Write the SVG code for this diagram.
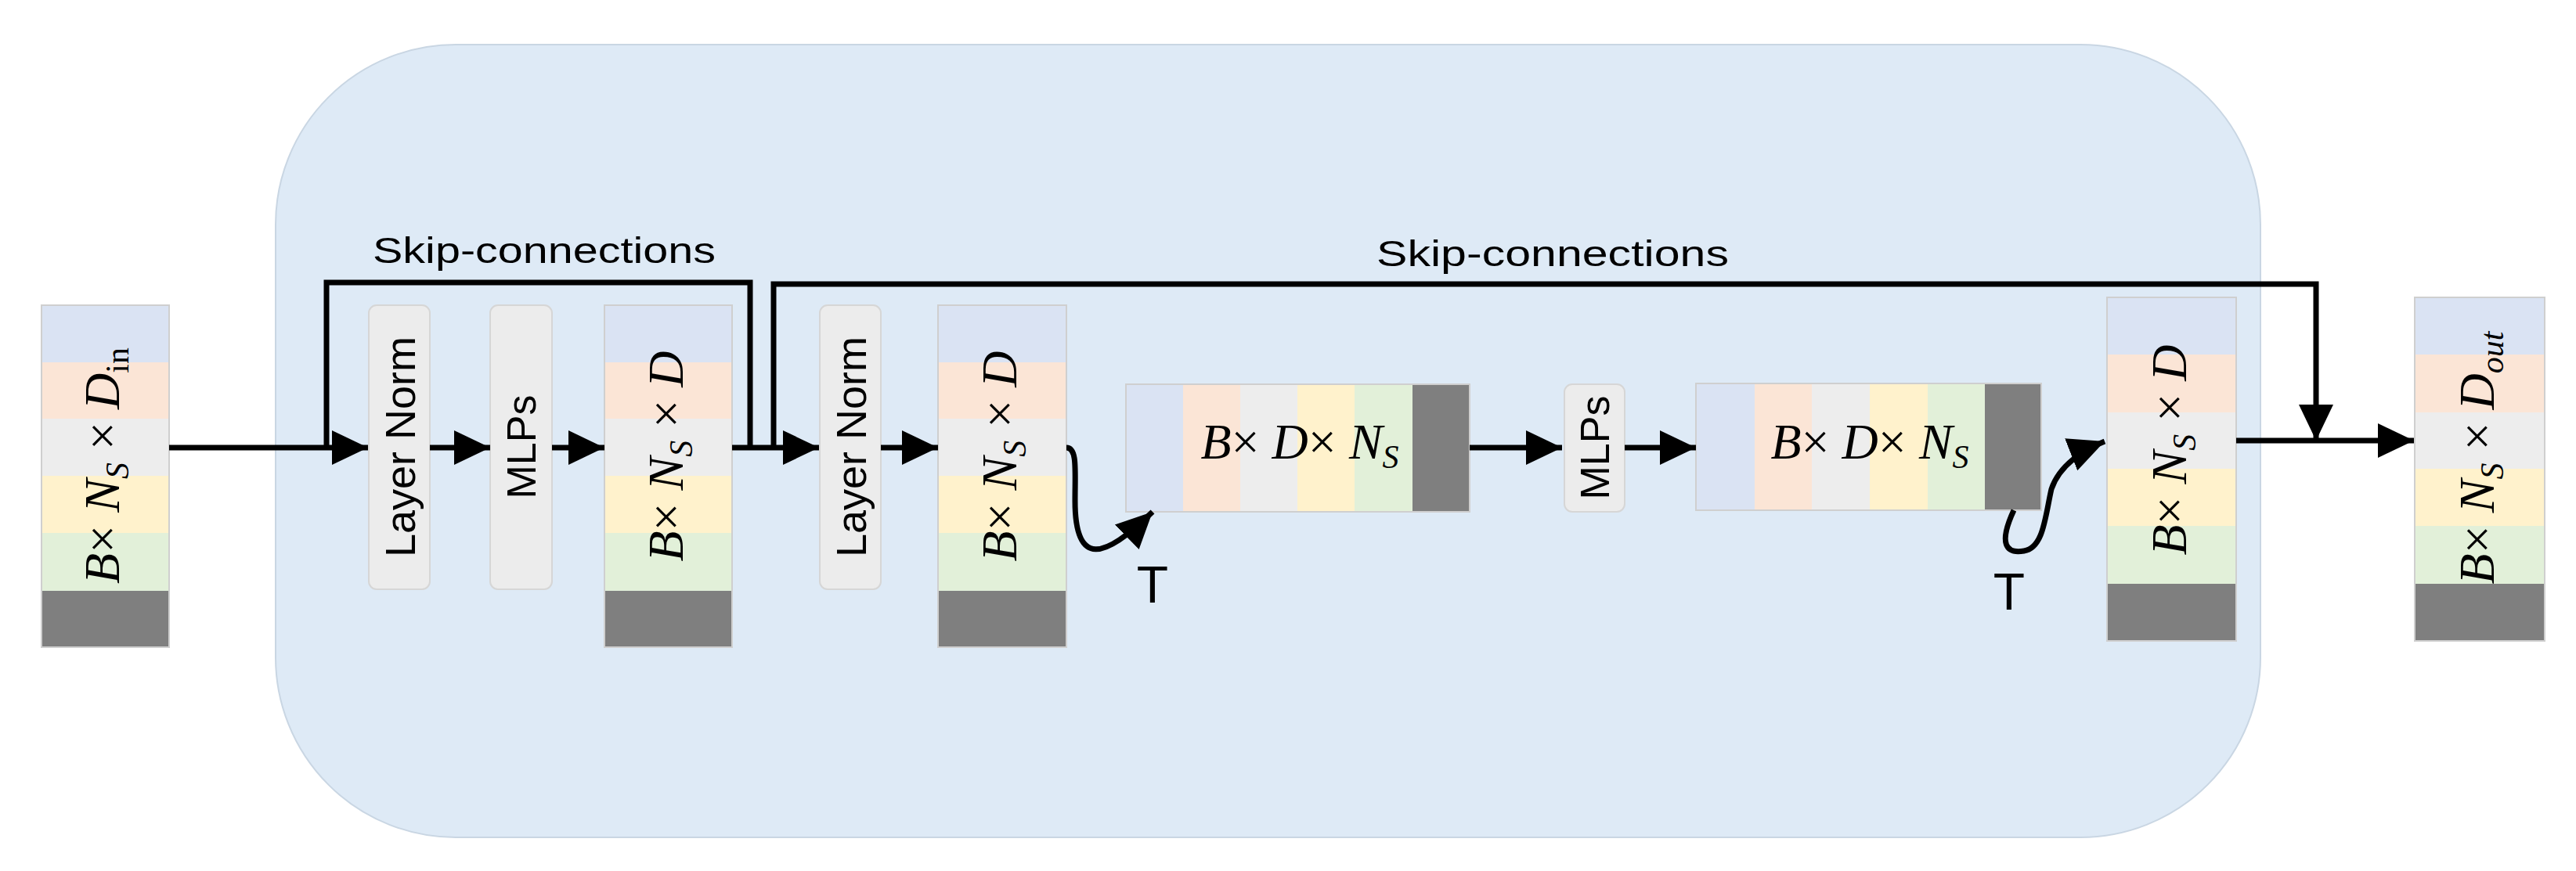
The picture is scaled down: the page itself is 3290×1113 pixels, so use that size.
<svg xmlns="http://www.w3.org/2000/svg" width="3290" height="1113" viewBox="0 0 3290 1113">
<style>
.c1{fill:#dae3f3}.c2{fill:#fbe5d6}.c3{fill:#ededed}.c4{fill:#fff2cc}.c5{fill:#e2f0d9}.c6{fill:#7f7f7f}
.sep{stroke:#cfcfcf;stroke-width:2;fill:none}
.box{fill:#ececec;stroke:#d6d6d6;stroke-width:2}
.ln{fill:none;stroke:#000;stroke-width:7}
.math{font-family:"Liberation Serif",serif;font-style:italic;font-size:64px;fill:#000}
.up{font-style:normal}
.sans{font-family:"Liberation Sans",Arial,sans-serif;fill:#000}
</style>
<defs>
<marker id="ah" markerUnits="userSpaceOnUse" markerWidth="50" markerHeight="50" refX="46" refY="22" orient="auto" viewBox="0 0 50 44">
<path d="M0,0 L46,22 L0,44 Z" fill="#000"/>
</marker>
</defs>
<rect x="352" y="57" width="2535" height="1013" rx="230" fill="#deeaf6" stroke="#c9d6e3" stroke-width="2"/>

<g id="col-in">
<rect class="c1" x="53" y="390" width="163" height="73"/><rect class="c2" x="53" y="463" width="163" height="72"/><rect class="c3" x="53" y="535" width="163" height="73"/><rect class="c4" x="53" y="608" width="163" height="73"/><rect class="c5" x="53" y="681" width="163" height="74"/><rect class="c6" x="53" y="755" width="163" height="72"/>
<rect class="sep" x="53" y="390" width="163" height="437"/>
<text class="math" transform="translate(152,595) rotate(-90)" text-anchor="middle">B<tspan class="up">× </tspan>N<tspan font-size="42" dy="12">S</tspan><tspan class="up" dy="-12"> × </tspan>D<tspan class="up" font-size="42" dy="12">in</tspan></text>
</g>

<g id="ln1"><rect class="box" x="471" y="390" width="78" height="363" rx="10"/>
<text class="sans" font-size="54" transform="translate(530,571) rotate(-90)" text-anchor="middle">Layer Norm</text></g>
<g id="mlp1"><rect class="box" x="626" y="390" width="79" height="363" rx="10"/>
<text class="sans" font-size="52" transform="translate(684,571) rotate(-90)" text-anchor="middle">MLPs</text></g>

<g id="col2">
<rect class="c1" x="772" y="390" width="163" height="73"/><rect class="c2" x="772" y="463" width="163" height="72"/><rect class="c3" x="772" y="535" width="163" height="73"/><rect class="c4" x="772" y="608" width="163" height="73"/><rect class="c5" x="772" y="681" width="163" height="74"/><rect class="c6" x="772" y="755" width="163" height="72"/>
<rect class="sep" x="772" y="390" width="163" height="437"/>
<text class="math" transform="translate(872,583) rotate(-90)" text-anchor="middle">B<tspan class="up">× </tspan>N<tspan font-size="42" dy="12">S</tspan><tspan class="up" dy="-12"> × </tspan>D</text>
</g>

<g id="ln2"><rect class="box" x="1047" y="390" width="78" height="363" rx="10"/>
<text class="sans" font-size="54" transform="translate(1106,571) rotate(-90)" text-anchor="middle">Layer Norm</text></g>

<g id="col3">
<rect class="c1" x="1198" y="390" width="164" height="73"/><rect class="c2" x="1198" y="463" width="164" height="72"/><rect class="c3" x="1198" y="535" width="164" height="73"/><rect class="c4" x="1198" y="608" width="164" height="73"/><rect class="c5" x="1198" y="681" width="164" height="74"/><rect class="c6" x="1198" y="755" width="164" height="72"/>
<rect class="sep" x="1198" y="390" width="164" height="437"/>
<text class="math" transform="translate(1298,583) rotate(-90)" text-anchor="middle">B<tspan class="up">× </tspan>N<tspan font-size="42" dy="12">S</tspan><tspan class="up" dy="-12"> × </tspan>D</text>
</g>

<g id="blk1">
<rect class="c1" x="1438" y="491" width="73" height="163"/><rect class="c2" x="1511" y="491" width="73" height="163"/><rect class="c3" x="1584" y="491" width="73" height="163"/><rect class="c4" x="1657" y="491" width="73" height="163"/><rect class="c5" x="1730" y="491" width="74" height="163"/><rect class="c6" x="1804" y="491" width="73" height="163"/>
<rect class="sep" x="1438" y="491" width="439" height="163"/>
<text class="math" x="1660" y="586" text-anchor="middle">B<tspan class="up">× </tspan>D<tspan class="up">× </tspan>N<tspan font-size="42" dy="12">S</tspan></text>
</g>

<g id="mlp2"><rect class="box" x="1998" y="491" width="77" height="163" rx="10"/>
<text class="sans" font-size="52" transform="translate(2055,572) rotate(-90)" text-anchor="middle">MLPs</text></g>

<g id="blk2">
<rect class="c1" x="2166" y="490" width="75" height="162"/><rect class="c2" x="2241" y="490" width="73" height="162"/><rect class="c3" x="2314" y="490" width="74" height="162"/><rect class="c4" x="2388" y="490" width="74" height="162"/><rect class="c5" x="2462" y="490" width="73" height="162"/><rect class="c6" x="2535" y="490" width="72" height="162"/>
<rect class="sep" x="2166" y="490" width="441" height="162"/>
<text class="math" x="2388" y="586" text-anchor="middle">B<tspan class="up">× </tspan>D<tspan class="up">× </tspan>N<tspan font-size="42" dy="12">S</tspan></text>
</g>

<g id="col4">
<rect class="c1" x="2691" y="380" width="165" height="73"/><rect class="c2" x="2691" y="453" width="165" height="74"/><rect class="c3" x="2691" y="527" width="165" height="72"/><rect class="c4" x="2691" y="599" width="165" height="73"/><rect class="c5" x="2691" y="672" width="165" height="74"/><rect class="c6" x="2691" y="746" width="165" height="73"/>
<rect class="sep" x="2691" y="380" width="165" height="439"/>
<text class="math" transform="translate(2792,575) rotate(-90)" text-anchor="middle">B<tspan class="up">× </tspan>N<tspan font-size="42" dy="12">S</tspan><tspan class="up" dy="-12"> × </tspan>D</text>
</g>

<g id="col-out">
<rect class="c1" x="3084" y="380" width="166" height="73"/><rect class="c2" x="3084" y="453" width="166" height="74"/><rect class="c3" x="3084" y="527" width="166" height="72"/><rect class="c4" x="3084" y="599" width="166" height="73"/><rect class="c5" x="3084" y="672" width="166" height="74"/><rect class="c6" x="3084" y="746" width="166" height="73"/>
<rect class="sep" x="3084" y="380" width="166" height="439"/>
<text class="math" transform="translate(3185,585) rotate(-90)" text-anchor="middle">B<tspan class="up">× </tspan>N<tspan font-size="42" dy="12">S</tspan><tspan class="up" dy="-12"> × </tspan>D<tspan font-size="42" dy="12">out</tspan></text>
</g>

<g id="connectors">
<path class="ln" d="M216,572 L470,572" marker-end="url(#ah)"/>
<path class="ln" d="M549,572 L626,572" marker-end="url(#ah)"/>
<path class="ln" d="M705,572 L772,572" marker-end="url(#ah)"/>
<path class="ln" d="M417,572 L417,361 L958,361 L958,572"/>
<path class="ln" d="M935,572 L1046,572" marker-end="url(#ah)"/>
<path class="ln" d="M988,572 L988,363 L2958,363 L2958,563" marker-end="url(#ah)"/>
<path class="ln" d="M1125,572 L1198,572" marker-end="url(#ah)"/>
<path class="ln" d="M1362,572 C1376,572 1373,600 1373,640 C1373,725 1410,715 1472,654" marker-end="url(#ah)"/>
<path class="ln" d="M1877,572 L1995,572" marker-end="url(#ah)"/>
<path class="ln" d="M2075,572 L2166,572" marker-end="url(#ah)"/>
<path class="ln" d="M2572,652 C2552,695 2562,708 2585,704 C2610,700 2612,660 2620,625 C2630,595 2660,575 2688,564" marker-end="url(#ah)"/>
<path class="ln" d="M2856,563 L3083,563" marker-end="url(#ah)"/>
</g>

<g id="labels">
<text class="sans" x="695" y="336" font-size="46" text-anchor="middle" textLength="438" lengthAdjust="spacingAndGlyphs">Skip-connections</text>
<text class="sans" x="1983" y="340" font-size="46" text-anchor="middle" textLength="450" lengthAdjust="spacingAndGlyphs">Skip-connections</text>
<text class="sans" x="1472" y="770" font-size="66" text-anchor="middle">T</text>
<text class="sans" x="2566" y="779" font-size="66" text-anchor="middle">T</text>
</g>
</svg>
